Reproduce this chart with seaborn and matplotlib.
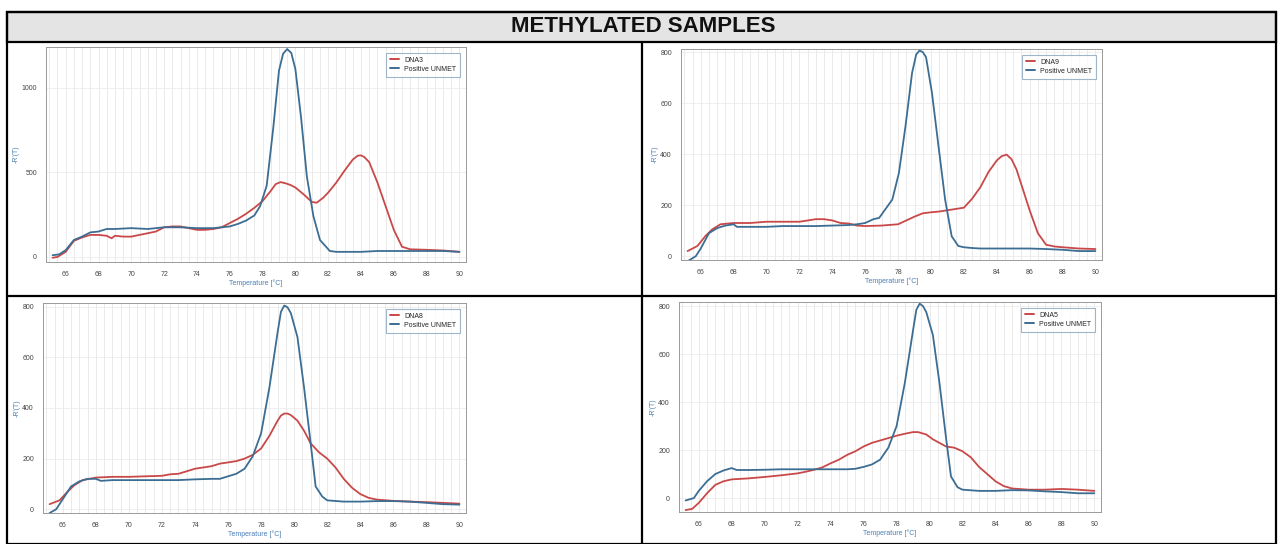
import matplotlib
matplotlib.use("Agg")
import matplotlib.pyplot as plt
import numpy as np
import pandas as pd
import seaborn as sns
from matplotlib.patches import Rectangle
from matplotlib.lines import Line2D
from matplotlib.ticker import MultipleLocator

## Datos

title_text = "METHYLATED SAMPLES"
sample_names = ["DNA3", "DNA9", "DNA8", "DNA5"]
control_name = "Positive UNMET"

# Panel 1 - DNA3
dna3_temp = [65.2, 65.5, 66, 66.5, 67, 67.5, 68, 68.5, 68.8, 69, 69.5, 70, 70.5, 71, 71.5, 72, 72.5, 73,
             73.5, 74, 74.5, 75, 75.5, 76, 76.5, 77, 77.5, 78, 78.5, 78.8, 79.1, 79.4, 79.7, 80, 80.5, 81,
             81.3, 81.7, 82, 82.5, 83, 83.5, 83.8, 84, 84.2, 84.5, 85, 85.5, 86, 86.5, 87, 88, 89, 90]
dna3_vals = [-5, 0, 30, 95, 115, 130, 130, 125, 110, 125, 120, 120, 130, 140, 150, 175, 180, 180,
             170, 160, 160, 165, 175, 200, 225, 255, 290, 330, 390, 430, 442, 435, 425, 410, 370, 325,
             320, 350, 380, 440, 510, 575, 598, 600, 590, 560, 440, 300, 160, 60, 45, 42, 38, 30]
unmet1_temp = [65.2, 65.6, 66, 66.5, 67, 67.5, 68, 68.5, 69, 70, 71, 72, 73, 74, 75, 76, 76.5, 77, 77.5,
               77.85, 78.25, 78.65, 79.0, 79.25, 79.5, 79.75, 80.0, 80.35, 80.7, 81.1, 81.5, 82.1, 82.5,
               83, 84, 85, 86, 87, 88, 89, 90]
unmet1_vals = [10, 15, 40, 100, 120, 145, 150, 165, 165, 170, 165, 175, 175, 170, 170, 180, 195, 215, 245,
               300, 420, 760, 1100, 1200, 1228, 1205, 1110, 820, 475, 240, 100, 35, 30,
               30, 30, 35, 35, 35, 35, 35, 30]

# Panel 2 - DNA9
dna9_temp = [65.2, 65.8, 66.3, 66.7, 67.2, 68, 69, 70, 71, 72, 72.5, 73, 73.5, 74, 74.5, 75, 75.5, 76, 77,
             78, 78.5, 79, 79.5, 80, 80.5, 81, 81.5, 82, 82.5, 83, 83.5, 84, 84.3, 84.6, 84.9, 85.2,
             85.5, 86, 86.5, 87, 87.5, 88, 89, 90]
dna9_vals = [20, 40, 80, 105, 125, 130, 130, 135, 135, 135, 140, 145, 145, 140, 130, 128, 120, 118, 120,
             125, 140, 155, 168, 172, 175, 180, 185, 190, 225, 270, 330, 375, 392, 398, 380, 340,
             280, 180, 90, 45, 38, 35, 30, 28]
unmet2_temp = [65.2, 65.7, 66, 66.5, 67, 67.5, 68, 68.2, 69, 70, 71, 72, 73, 74, 75, 75.5, 76, 76.5, 76.85,
               77.65, 78.05, 78.45, 78.85, 79.1, 79.3, 79.5, 79.7, 80.06, 80.46, 80.86, 81.26, 81.66,
               82, 82.5, 83, 84, 85, 86, 87, 88, 89, 90]
unmet2_vals = [-20, 0, 30, 90, 110, 120, 125, 115, 115, 115, 118, 118, 118, 120, 122, 125, 130, 145, 150,
               222, 326, 509, 718, 790, 806, 800, 780, 640, 430, 222, 78, 40,
               35, 32, 30, 30, 30, 30, 28, 25, 20, 20]

# Panel 3 - DNA8
dna8_temp = [65.2, 65.8, 66.3, 66.7, 67.2, 68, 69, 70, 71, 72, 72.5, 73, 73.5, 74, 75, 75.5, 76, 76.5, 77,
             77.5, 78, 78.5, 79, 79.2, 79.4, 79.6, 79.8, 80.2, 80.6, 81, 81.5, 82, 82.5, 83, 83.5, 84,
             84.5, 85, 86, 87, 88, 89, 90]
dna8_vals = [20, 35, 70, 95, 115, 125, 128, 128, 130, 132, 138, 140, 150, 160, 170, 180, 185, 190, 200,
             215, 240, 290, 350, 370, 378, 378, 372, 350, 310, 260, 225, 200, 165, 120, 85, 60,
             45, 38, 33, 30, 28, 25, 22]
unmet3_temp = [65.2, 65.6, 66, 66.5, 67, 67.5, 68, 68.3, 69, 70, 71, 72, 73, 74, 75, 75.5, 76, 76.5, 77,
               77.5, 78, 78.5, 79, 79.2, 79.4, 79.6, 79.8, 80.2, 80.6, 81, 81.3, 81.7, 82, 83, 84, 85,
               86, 87, 88, 89, 90]
unmet3_vals = [-15, 0, 40, 90, 110, 120, 120, 112, 115, 115, 115, 115, 115, 118, 120, 120, 130, 140, 160,
               210, 300, 480, 700, 780, 805, 798, 775, 680, 480, 260, 90, 50, 35, 30, 30, 32,
               32, 30, 25, 20, 18]

# Panel 4 - DNA5
dna5_temp = [65.2, 65.6, 66, 66.5, 67, 67.5, 68, 69, 70, 71, 72, 72.5, 73, 73.5, 74, 74.5, 75, 75.5, 76,
             76.5, 77, 77.5, 78, 78.5, 79, 79.3, 79.8, 80.2, 80.6, 81, 81.5, 82, 82.5, 83, 83.5, 84,
             84.5, 85, 86, 87, 88, 89, 90]
dna5_vals = [-50, -45, -20, 20, 55, 70, 78, 82, 88, 95, 103, 110, 118, 128, 145, 160, 180, 195, 215,
             230, 240, 250, 260, 268, 275, 275, 265, 245, 230, 215, 210, 195, 170, 130, 100, 70,
             50, 40, 35, 35, 38, 35, 30]
unmet4_temp = [65.2, 65.7, 66, 66.5, 67, 67.5, 68, 68.3, 69, 70, 71, 72, 73, 74, 75, 75.5, 76, 76.5, 77,
               77.5, 78, 78.5, 79, 79.2, 79.4, 79.6, 79.8, 80.2, 80.6, 81, 81.3, 81.7, 82, 83, 84, 85,
               86, 87, 88, 89, 90]
unmet4_vals = [-10, 0, 30, 70, 100, 115, 125, 117, 117, 118, 120, 120, 120, 120, 120, 122, 130, 140, 160,
               210, 300, 480, 700, 785, 810, 800, 775, 680, 480, 250, 90, 45, 35, 30, 30, 33,
               32, 28, 25, 20, 20]

## Estilo

sns.set_style("white")
plt.rcParams['font.family'] = ['Liberation Sans', 'DejaVu Sans']

red = "#c94848"
blue = "#3c6d93"
label_blue = "#4a7fb5"

fig = plt.figure(figsize=(12.8, 5.44), dpi=100)

def fx(px):
    return px / 1280

def fy(py):
    return 1 - py / 544

# Marco exterior, cabecera y divisiones
fig.patches.append(Rectangle((fx(7), fy(544)), fx(1276 - 7), fy(12) - fy(544), transform=fig.transFigure,
                             facecolor="none", edgecolor="black", linewidth=1.6, zorder=3))
fig.patches.append(Rectangle((fx(7), fy(42)), fx(1276 - 7), fy(12) - fy(42), transform=fig.transFigure,
                             facecolor="#e4e4e4", edgecolor="black", linewidth=1.6, zorder=1))
fig.lines.append(Line2D([fx(642), fx(642)], [fy(42), fy(544)], transform=fig.transFigure, color="black", linewidth=1.6))
fig.lines.append(Line2D([fx(7), fx(1276)], [fy(296), fy(296)], transform=fig.transFigure, color="black", linewidth=1.6))
fig.text(fx(643), fy(27), title_text, ha="center", va="center", fontsize=16, fontweight="bold", color="#111111")

panels = [
    # (left, top, right, bottom) px, ylim, major y, minor y, data
    ((46, 47, 466, 262), (-30, 1240), 500, 100, dna3_temp, dna3_vals, unmet1_temp, unmet1_vals, sample_names[0]),
    ((681, 49, 1102, 260), (-15, 812), 200, 50, dna9_temp, dna9_vals, unmet2_temp, unmet2_vals, sample_names[1]),
    ((43, 303, 466, 513), (-15, 815), 200, 50, dna8_temp, dna8_vals, unmet3_temp, unmet3_vals, sample_names[2]),
    ((679, 302, 1101, 512), (-58, 817), 200, 50, dna5_temp, dna5_vals, unmet4_temp, unmet4_vals, sample_names[3]),
]

for box, ylim, ymaj, ymin, st, sv, ut, uv, name in panels:
    l, t, r, b = box
    ax = fig.add_axes([fx(l), fy(b), fx(r - l), fy(t) - fy(b)])

    df = pd.concat([
        pd.DataFrame({"Temperature": st, "value": sv, "serie": name}),
        pd.DataFrame({"Temperature": ut, "value": uv, "serie": control_name}),
    ])
    sns.lineplot(data=df, x="Temperature", y="value", hue="serie", palette={name: red, control_name: blue},
                 ax=ax, linewidth=1.3, sort=False, estimator=None)

    ax.set_xlim(64.8, 90.4)
    ax.set_ylim(*ylim)
    ax.set_xticks(np.arange(66, 91, 2))
    ax.xaxis.set_minor_locator(MultipleLocator(0.5))
    ax.yaxis.set_major_locator(MultipleLocator(ymaj))
    ax.yaxis.set_minor_locator(MultipleLocator(ymin))
    ax.grid(True, which="minor", axis="x", color="#e6e6e6", linewidth=0.6)
    ax.grid(True, which="major", axis="x", color="#e6e6e6", linewidth=0.6)
    ax.grid(True, which="major", axis="y", color="#ececec", linewidth=0.6)
    ax.tick_params(axis="both", which="major", labelsize=5, length=3, width=0.6, colors="#555555",
                   labelcolor="#444444", direction="out")
    ax.tick_params(axis="both", which="minor", length=1.8, width=0.5, colors="#555555")
    for s in ax.spines.values():
        s.set_color("#9a9a9a")
        s.set_linewidth(0.7)

    ax.set_xlabel("Temperature [°C]", fontsize=5, color=label_blue, labelpad=1)
    ax.set_ylabel("-R'(T)", fontsize=5, color=label_blue, labelpad=1)

    leg = ax.legend(loc="upper right", fontsize=5, frameon=True, fancybox=False, handlelength=1.2,
                    borderpad=0.6, labelspacing=0.3, borderaxespad=0.8)
    leg.get_frame().set_edgecolor("#8aa3bb")
    leg.get_frame().set_linewidth(0.8)
    for h in leg.get_lines():
        h.set_linewidth(1.4)

fig.savefig("out.png", dpi=100)
